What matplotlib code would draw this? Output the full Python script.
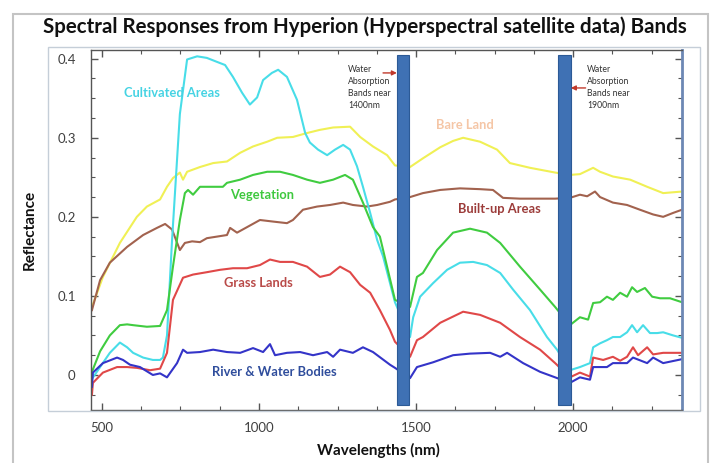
import matplotlib
matplotlib.use("Agg")
import matplotlib.pyplot as plt
from matplotlib.patches import Rectangle
from matplotlib.ticker import MultipleLocator

plt.rcParams['font.family'] = ['Lato', 'DejaVu Sans']

# ---------------- data ----------------
cult_wl = [468, 494, 525, 557, 580, 599, 631, 662, 685, 694, 707, 723, 748, 771, 803, 834, 866, 892,
           917, 946, 971, 994, 1013, 1041, 1061, 1089, 1121, 1147, 1162, 1188, 1217, 1242, 1268, 1290,
           1312, 1331, 1354, 1376, 1395, 1433, 1481, 1491, 1513, 1554, 1599, 1640, 1682, 1726, 1768,
           1809, 1863, 1917, 1949, 1990, 2022, 2054, 2064, 2086, 2108, 2127, 2150, 2172, 2188, 2204,
           2223, 2245, 2268, 2287, 2319, 2347]
cult_rf = [-0.005, 0.01, 0.028, 0.041, 0.035, 0.028, 0.022, 0.019, 0.019, 0.022, 0.05, 0.17, 0.33,
           0.399, 0.403, 0.401, 0.396, 0.392, 0.377, 0.357, 0.342, 0.351, 0.373, 0.382, 0.386, 0.377,
           0.348, 0.306, 0.294, 0.285, 0.278, 0.285, 0.291, 0.285, 0.264, 0.238, 0.205, 0.171, 0.150,
           0.092, 0.048, 0.073, 0.099, 0.116, 0.133, 0.142, 0.143, 0.139, 0.129, 0.108, 0.082, 0.048,
           0.032, 0.006, 0.010, 0.015, 0.035, 0.040, 0.044, 0.048, 0.048, 0.054, 0.063, 0.054, 0.063,
           0.053, 0.053, 0.054, 0.050, 0.047]

veg_wl = [468, 494, 525, 557, 580, 599, 643, 685, 707, 726, 748, 764, 774, 790, 812, 854, 885, 898,
          940, 981, 1026, 1067, 1108, 1153, 1194, 1236, 1274, 1299, 1331, 1363, 1385, 1433, 1481,
          1503, 1522, 1567, 1618, 1672, 1726, 1768, 1831, 1895, 1943, 1990, 2022, 2048, 2064, 2086,
          2108, 2127, 2150, 2172, 2188, 2204, 2229, 2252, 2277, 2309, 2347]
veg_rf = [0.004, 0.030, 0.050, 0.063, 0.064, 0.063, 0.061, 0.062, 0.082, 0.137, 0.196, 0.230, 0.234,
          0.228, 0.238, 0.238, 0.238, 0.243, 0.247, 0.253, 0.257, 0.257, 0.253, 0.247, 0.243, 0.247,
          0.253, 0.247, 0.218, 0.187, 0.175, 0.095, 0.086, 0.124, 0.129, 0.158, 0.180, 0.185, 0.180,
          0.167, 0.137, 0.108, 0.086, 0.063, 0.073, 0.070, 0.091, 0.092, 0.099, 0.095, 0.104, 0.099,
          0.111, 0.105, 0.110, 0.099, 0.097, 0.097, 0.092]

bare_wl = [468, 503, 557, 611, 643, 685, 707, 726, 748, 758, 771, 812, 854, 898, 940, 981, 1026, 1058,
           1108, 1153, 1194, 1236, 1290, 1322, 1363, 1408, 1433, 1481, 1522, 1577, 1618, 1650, 1704,
           1758, 1799, 1863, 1943, 1990, 2022, 2064, 2086, 2127, 2182, 2236, 2287, 2347]
bare_rf = [0.086, 0.124, 0.167, 0.200, 0.213, 0.222, 0.238, 0.249, 0.256, 0.247, 0.257, 0.263, 0.268,
           0.270, 0.281, 0.289, 0.295, 0.300, 0.301, 0.306, 0.310, 0.313, 0.314, 0.301, 0.289, 0.278,
           0.265, 0.263, 0.274, 0.288, 0.296, 0.300, 0.295, 0.285, 0.268, 0.262, 0.256, 0.253, 0.254,
           0.262, 0.257, 0.251, 0.247, 0.238, 0.230, 0.232]

built_wl = [468, 494, 525, 580, 631, 675, 701, 723, 748, 764, 787, 812, 834, 866, 898, 908, 930, 962,
            1003, 1045, 1089, 1108, 1140, 1185, 1226, 1268, 1299, 1344, 1376, 1417, 1433, 1481, 1522,
            1577, 1640, 1704, 1745, 1777, 1831, 1895, 1943, 1990, 2022, 2045, 2070, 2086, 2127, 2172,
            2213, 2255, 2287, 2319, 2347]
built_rf = [0.082, 0.120, 0.142, 0.162, 0.177, 0.186, 0.191, 0.184, 0.158, 0.167, 0.169, 0.168, 0.173,
            0.175, 0.177, 0.186, 0.180, 0.187, 0.196, 0.194, 0.192, 0.196, 0.209, 0.213, 0.215, 0.218,
            0.215, 0.213, 0.215, 0.219, 0.222, 0.225, 0.230, 0.234, 0.236, 0.235, 0.234, 0.224, 0.223,
            0.223, 0.223, 0.224, 0.228, 0.226, 0.232, 0.225, 0.218, 0.215, 0.209, 0.203, 0.200, 0.205,
            0.209]

grass_wl = [468, 471, 503, 548, 580, 611, 653, 685, 707, 726, 758, 790, 834, 876, 917, 962, 1003, 1035,
            1067, 1108, 1153, 1194, 1226, 1258, 1290, 1322, 1354, 1385, 1417, 1433, 1481, 1503, 1522,
            1577, 1650, 1704, 1768, 1831, 1895, 1943, 1990, 2022, 2054, 2064, 2096, 2127, 2150, 2172,
            2191, 2207, 2236, 2255, 2287, 2347]
grass_rf = [-0.025, -0.010, 0.003, 0.010, 0.010, 0.009, 0.006, 0.008, 0.028, 0.095, 0.123, 0.127, 0.130,
            0.133, 0.135, 0.135, 0.139, 0.146, 0.143, 0.143, 0.137, 0.124, 0.127, 0.137, 0.130, 0.114,
            0.104, 0.082, 0.057, 0.042, 0.023, 0.044, 0.048, 0.066, 0.080, 0.076, 0.066, 0.048, 0.032,
            0.015, -0.003, 0.003, -0.002, 0.022, 0.019, 0.023, 0.018, 0.023, 0.035, 0.025, 0.035, 0.026,
            0.028, 0.028]

water_wl = [468, 471, 503, 548, 567, 589, 621, 662, 685, 707, 739, 758, 771, 812, 854, 898, 940, 981,
            1013, 1035, 1051, 1089, 1131, 1172, 1217, 1236, 1258, 1299, 1331, 1363, 1417, 1433, 1481,
            1503, 1554, 1618, 1672, 1736, 1768, 1790, 1841, 1895, 1943, 1990, 2022, 2054, 2064, 2108,
            2127, 2172, 2191, 2236, 2255, 2287, 2347]
water_rf = [-0.015, 0.003, 0.015, 0.022, 0.019, 0.013, 0.010, 0.000, 0.002, -0.003, 0.015, 0.032, 0.028,
            0.029, 0.032, 0.029, 0.028, 0.034, 0.029, 0.039, 0.025, 0.028, 0.029, 0.025, 0.029, 0.023,
            0.032, 0.028, 0.035, 0.029, 0.013, 0.009, -0.004, 0.010, 0.016, 0.025, 0.027, 0.028, 0.023,
            0.028, 0.015, 0.004, -0.003, -0.010, -0.003, -0.006, 0.010, 0.010, 0.015, 0.015, 0.022,
            0.015, 0.022, 0.015, 0.020]

band_left = [1440, 1953]
band_width = [38, 39]
band_bottom = -0.038
band_top = 0.405

x_ticks = [500, 1000, 1500, 2000]
y_ticks = [0, 0.1, 0.2, 0.3, 0.4]
y_tick_labels = ['0', '0.1', '0.2', '0.3', '0.4']

# ---------------- figure ----------------
W, H = 715, 463
fig = plt.figure(figsize=(W / 100, H / 100), dpi=100)
fig.patches.append(Rectangle((13 / W, -0.05), (708 - 13) / W, (463 - 14) / H + 0.05,
                             transform=fig.transFigure, fill=False, edgecolor='#c4c4c4', lw=1.5))
fig.patches.append(Rectangle((48 / W, 1 - 411 / H), (700 - 48) / W, (411 - 47) / H,
                             transform=fig.transFigure, fill=False, edgecolor='#c5ced8', lw=1.0))

ax = fig.add_axes([91 / W, 1 - 410 / H, (682 - 91) / W, (410 - 50) / H])

series = [
    (bare_wl, bare_rf, '#f0f055'),
    (built_wl, built_rf, '#a2624e'),
    (cult_wl, cult_rf, '#48dde8'),
    (veg_wl, veg_rf, '#40cc40'),
    (grass_wl, grass_rf, '#e04848'),
    (water_wl, water_rf, '#3434c8'),
]
for wl, rf, c in series:
    ax.plot(wl, rf, color=c, lw=1.5, zorder=2)

ax.bar(band_left, [band_top - band_bottom] * len(band_left), width=band_width, bottom=band_bottom,
       align='edge', color='#3f71b4', edgecolor='#2c5a96', lw=0.8, zorder=3)

ax.set_xlim(465, 2347)
ax.set_ylim(-0.0443, 0.411)
ax.set_xticks(x_ticks)
ax.set_yticks(y_ticks)
ax.set_yticklabels(y_tick_labels)
ax.xaxis.set_minor_locator(MultipleLocator(125))
ax.yaxis.set_minor_locator(MultipleLocator(0.025))
ax.tick_params(which='both', direction='in', top=True, right=True, colors='#555555',
               labelcolor='#404040', labelsize=9.5)
ax.tick_params(which='major', length=5, width=1.0)
ax.tick_params(which='minor', length=3, width=0.8)
ax.tick_params(axis='y', pad=11)
ax.tick_params(axis='x', pad=9)
for s in ['left', 'bottom', 'top']:
    ax.spines[s].set_color('#555555')
    ax.spines[s].set_linewidth(1.0)
ax.spines['right'].set_color('#6d88b4')
ax.spines['right'].set_linewidth(2.0)

# labels on curves
lab = dict(fontsize=9.3, fontweight='bold', ha='center', va='center', zorder=4)
ax.text(723, 0.357, 'Cultivated Areas', color='#45d3e3', **lab)
ax.text(1010, 0.228, 'Vegetation', color='#3ec83e', **lab)
ax.text(997, 0.116, 'Grass Lands', color='#b94a48', **lab)
ax.text(1048, 0.004, 'River & Water Bodies', color='#2f4d9c', **lab)
ax.text(1764, 0.210, 'Built-up Areas', color='#9c3c3a', **lab)
ax.text(1656, 0.316, 'Bare Land', color='#f5c6a6', **lab)

note = dict(fontsize=6.2, color='#333333', ha='left', va='top', linespacing=1.45, zorder=4)
ax.text(1284, 0.392, 'Water\nAbsorption\nBands near\n1400nm', **note)
ax.text(2045, 0.392, 'Water\nAbsorption\nBands near\n1900nm', **note)
arrow = dict(arrowstyle='-|>', color='#c0392b', lw=1.0, mutation_scale=7, shrinkA=0, shrinkB=0)
ax.annotate('', xy=(1439, 0.382), xytext=(1395, 0.382), arrowprops=arrow, zorder=4)
ax.annotate('', xy=(1993, 0.363), xytext=(2040, 0.363), arrowprops=arrow, zorder=4)

fig.text(365 / W, 1 - 27 / H, 'Spectral Responses from Hyperion (Hyperspectral satellite data) Bands',
         ha='center', va='center', fontsize=14.8, fontweight='bold', color='#111111')
fig.text(378 / W, 1 - 450 / H, 'Wavelengths (nm)', ha='center', va='center', fontsize=11,
         fontweight='bold', color='#111111')
fig.text(30 / W, 1 - 230 / H, 'Reflectance', ha='center', va='center', rotation=90, fontsize=11,
         fontweight='bold', color='#111111')

fig.savefig('out.png', dpi=100)
